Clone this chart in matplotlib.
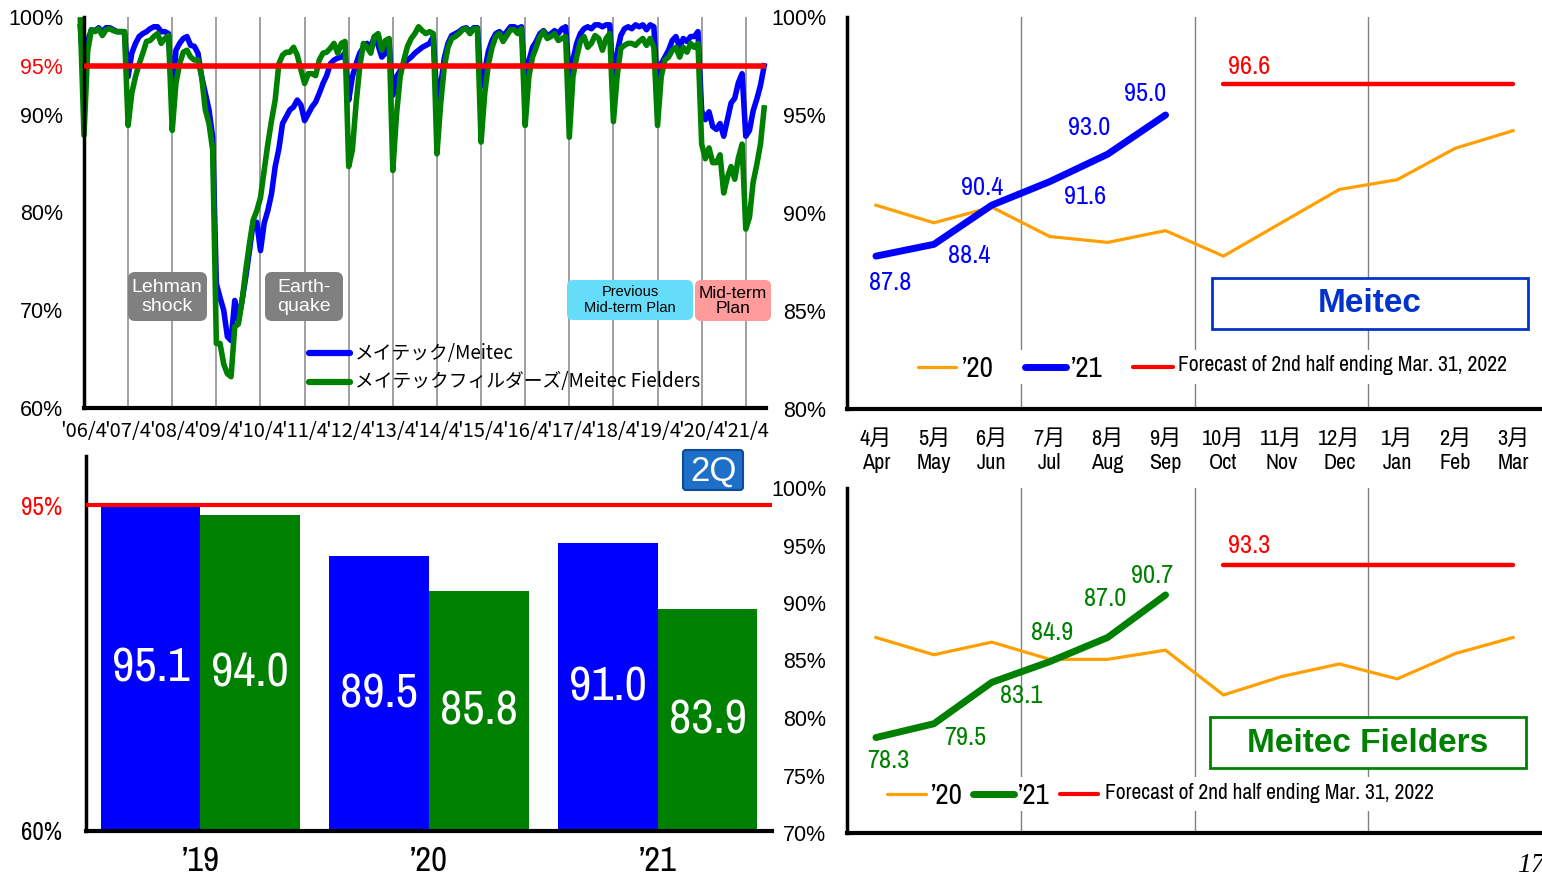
import matplotlib
matplotlib.use("Agg")
import matplotlib.pyplot as plt
import numpy as np
from matplotlib.lines import Line2D
from matplotlib.patches import FancyBboxPatch, Rectangle

W, H = 1542, 884

# 月次稼働率 2006/3 .. 2020/3 (1行 = 1年度 4月..3月, 先頭は 2006/3)
meitec_hist = [
    99.0,
    93.5, 97.5, 98.7, 98.6, 98.9, 98.5, 98.9, 98.9, 98.7, 98.5, 98.5, 98.5,
    93.9, 96.3, 97.3, 98.0, 98.3, 98.5, 98.8, 99.0, 99.0, 98.5, 98.5, 98.3,
    91.0, 96.6, 97.3, 97.8, 98.0, 97.1, 97.0, 96.3, 93.9, 92.2, 90.5, 87.7,
    72.7, 71.3, 70.0, 67.3, 66.9, 71.0, 69.0, 71.0, 73.4, 76.1, 78.9, 79.0,
    76.1, 78.9, 80.2, 81.9, 84.7, 86.5, 89.1, 89.8, 90.5, 90.8, 91.5, 91.0,
    89.4, 90.1, 90.8, 91.3, 92.2, 93.2, 94.0, 95.2, 95.6, 95.8, 95.9, 96.3,
    91.5, 93.9, 95.2, 96.3, 96.9, 97.3, 96.9, 98.0, 97.1, 95.9, 96.3, 97.3,
    92.0, 93.9, 94.5, 95.2, 95.6, 95.9, 96.3, 96.6, 96.9, 97.1, 97.3, 98.0,
    91.5, 93.0, 95.8, 97.3, 98.1, 98.3, 98.5, 98.8, 98.9, 98.5, 98.9, 98.9,
    92.9, 94.5, 96.5, 97.6, 98.3, 98.5, 98.1, 98.5, 99.0, 99.0, 98.8, 99.0,
    92.9, 95.5, 96.9, 97.5, 98.3, 98.6, 98.1, 98.3, 98.6, 98.3, 98.8, 99.0,
    93.9, 95.6, 97.3, 98.3, 98.8, 99.0, 98.8, 99.2, 99.2, 99.0, 99.2, 99.2,
    92.5, 96.3, 98.1, 98.8, 99.0, 98.8, 99.2, 99.0, 99.2, 98.7, 99.2, 99.0,
    92.5, 95.2, 95.9, 96.6, 97.6, 98.0, 96.9, 97.8, 97.5, 98.0, 98.0, 98.5,
]
fielders_hist = [
    99.7,
    87.9, 96.5, 98.7, 98.5, 98.8, 98.1, 98.7, 98.8, 98.6, 98.5, 98.5, 98.5,
    88.9, 92.2, 93.9, 95.2, 96.3, 97.5, 97.6, 98.0, 98.3, 97.3, 97.8, 98.1,
    88.4, 93.2, 95.2, 96.4, 96.6, 95.9, 95.6, 95.6, 93.9, 90.5, 89.1, 86.4,
    66.6, 66.6, 64.5, 63.5, 63.2, 68.3, 68.6, 71.0, 74.1, 76.8, 79.2, 80.2,
    81.5, 84.3, 87.0, 89.4, 91.5, 95.2, 96.1, 96.4, 96.4, 96.9, 96.1, 94.6,
    93.2, 94.2, 94.2, 94.0, 95.6, 96.3, 96.4, 96.8, 97.3, 96.3, 97.3, 97.5,
    84.7, 86.4, 91.1, 94.9, 97.3, 96.9, 96.3, 98.0, 98.3, 96.6, 97.6, 97.8,
    84.3, 90.0, 93.9, 95.6, 97.0, 97.8, 98.3, 99.0, 98.6, 98.3, 98.5, 98.3,
    86.0, 91.1, 94.9, 96.9, 97.8, 98.0, 98.3, 98.7, 98.8, 98.3, 98.8, 98.8,
    87.2, 92.2, 95.2, 96.9, 98.0, 98.3, 97.5, 98.1, 98.7, 98.7, 98.3, 98.8,
    88.9, 93.9, 95.9, 96.9, 98.0, 98.5, 97.8, 98.0, 98.3, 97.6, 97.8, 98.0,
    87.7, 93.9, 95.9, 97.5, 98.0, 96.9, 97.3, 98.1, 97.8, 96.6, 97.8, 98.3,
    89.3, 93.9, 96.8, 97.1, 97.3, 97.3, 97.1, 97.5, 97.8, 97.1, 97.8, 96.9,
    88.9, 93.9, 95.6, 95.9, 96.6, 96.9, 95.9, 96.9, 96.4, 97.3, 96.9, 97.3,
]

# '20 / '21 年度の月次
meitec_20 = [90.4, 89.5, 90.3, 88.8, 88.5, 89.1, 87.8, 89.5, 91.2, 91.7, 93.3, 94.2]
meitec_21 = [87.8, 88.4, 90.4, 91.6, 93.0, 95.0]
fielders_20 = [87.0, 85.5, 86.6, 85.1, 85.1, 85.9, 82.0, 83.6, 84.7, 83.4, 85.6, 87.0]
fielders_21 = [78.3, 79.5, 83.1, 84.9, 87.0, 90.7]
meitec_forecast = 96.6
fielders_forecast = 93.3

# 2Q
years_2q = ["’19", "’20", "’21"]
meitec_2q = [95.1, 89.5, 91.0]
fielders_2q = [94.0, 85.8, 83.9]

months_jp = ["4月", "5月", "6月", "7月", "8月", "9月", "10月", "11月", "12月", "1月", "2月", "3月"]
months_en = ["Apr", "May", "Jun", "Jul", "Aug", "Sep", "Oct", "Nov", "Dec", "Jan", "Feb", "Mar"]
fy_labels = ["'%02d/4" % y for y in range(6, 22)]

BLUE = "#0000FF"
GREEN = "#008000"
ORANGE = "#FFA000"
RED = "#FF0000"
NARROW = ["Archivo Narrow", "DejaVu Sans"]
SANS = ["Liberation Sans", "DejaVu Sans"]
JP = ["Noto Sans CJK JP", "DejaVu Sans"]
plt.rcParams["font.family"] = SANS


def rect(x0, y0, x1, y1):
    return [x0 / W, 1 - y1 / H, (x1 - x0) / W, (y1 - y0) / H]


def fig_line(x0, x1, y, color, lw):
    fig.add_artist(Line2D([x0 / W, x1 / W], [1 - y / H, 1 - y / H], transform=fig.transFigure,
                          color=color, lw=lw, solid_capstyle="round"))


def fig_box(x0, y0, x1, y1, fc, r=6, ec="none", lw=0):
    fig.add_artist(FancyBboxPatch((x0 / 100, (H - y1) / 100), (x1 - x0) / 100, (y1 - y0) / 100,
                                  boxstyle="round,pad=0,rounding_size=%f" % (r / 100),
                                  transform=fig.dpi_scale_trans, fc=fc, ec=ec, lw=lw))


def fig_text(x, y, s, **kw):
    fig.text(x / W, 1 - y / H, s, ha=kw.pop("ha", "center"), va=kw.pop("va", "center"), **kw)


fig = plt.figure(figsize=(W / 100, H / 100), dpi=100)

# ---- 左上: 月次推移 ----
ax1 = fig.add_axes(rect(84, 17, 766, 408))
meitec_all = meitec_hist + meitec_20 + meitec_21
fielders_all = fielders_hist + fielders_20 + fielders_21
xm = np.arange(len(meitec_all)) - 1
for m in range(12, 181, 12):
    ax1.axvline(m, color="#999999", lw=1.3, zorder=0)
ax1.plot(xm, meitec_all, color=BLUE, lw=4, clip_on=False, zorder=2)
ax1.plot(xm, fielders_all, color=GREEN, lw=4, clip_on=False, zorder=2.5)
ax1.axhline(95, color=RED, lw=4, zorder=3)
ax1.set_xlim(0, 185.5)
ax1.set_ylim(60, 100)
ax1.set_yticks([60, 70, 80, 90, 95, 100])
ax1.set_yticklabels(["60%", "70%", "80%", "90%", "95%", "100%"], fontsize=15.5)
ax1.get_yticklabels()[4].set_color(RED)
ax1.set_xticks(range(0, 181, 12))
ax1.set_xticklabels(fy_labels, fontsize=14.5, family=JP)
ax1.tick_params(length=0)
ax1.tick_params(axis="y", pad=15)
ax1.tick_params(axis="x", pad=9)
for s in ["top", "right"]:
    ax1.spines[s].set_visible(False)
ax1.spines["left"].set_linewidth(2.5)
ax1.spines["bottom"].set_linewidth(3)

fig_box(128, 272, 207, 321, "#808080", r=7)
fig_text(167, 297, "Lehman\nshock", color="white", fontsize=14, linespacing=1.15)
fig_box(265, 272, 343, 321, "#808080", r=7)
fig_text(304, 297, "Earth-\nquake", color="white", fontsize=14, linespacing=1.15)
fig_box(567, 280, 693, 320, "#66DDF8", r=6)
fig_text(630, 300, "Previous\nMid-term Plan", fontsize=10.5, linespacing=1.2)
fig_box(695, 280, 771, 321, "#FF9B9B", r=6)
fig_text(733, 301, "Mid-term\nPlan", fontsize=12.5, linespacing=1.05)

fig_line(309, 350, 353, BLUE, 4.5)
fig_text(355, 353, "メイテック/Meitec", ha="left", fontsize=13.5, family=JP)
fig_line(309, 350, 382, GREEN, 4.5)
fig_text(355, 382, "メイテックフィルダーズ/Meitec Fielders", ha="left", fontsize=13.5, family=JP)


# ---- 右: 月別 ----
def month_chart(ax, lo, prev, cur, cur_color, fc, offsets, fc_offset):
    x = np.arange(12)
    for g in [2.5, 5.5, 8.5]:
        ax.axvline(g, color="#808080", lw=1, zorder=0)
    ax.plot(x, prev, color=ORANGE, lw=2.3, zorder=2)
    ax.plot(x[:len(cur)], cur, color=cur_color, lw=5, solid_capstyle="round", zorder=3)
    ax.plot([6, 11], [fc, fc], color=RED, lw=3.2, solid_capstyle="round", zorder=3)
    for xi, v, off in zip(x, cur, offsets):
        ax.annotate("%.1f" % v, (xi, v), xytext=off, textcoords="offset pixels", ha="center",
                    va="center", color=cur_color, fontsize=19, family=NARROW)
    ax.annotate("%.1f" % fc, (6, fc), xytext=fc_offset, textcoords="offset pixels", ha="center",
                va="center", color=RED, fontsize=19, family=NARROW)
    ax.set_xlim(-0.5, 11.5)
    ax.set_ylim(lo, 100)
    ax.set_yticks(np.arange(lo, 100.1, 5))
    ax.set_yticklabels(["%d%%" % t for t in np.arange(lo, 100.1, 5)], fontsize=15.5)
    ax.tick_params(length=0)
    ax.tick_params(axis="y", pad=15)
    for s in ["top", "right"]:
        ax.spines[s].set_visible(False)
    ax.spines["left"].set_linewidth(2.5)
    ax.spines["bottom"].set_linewidth(3)


ax2 = fig.add_axes(rect(847, 17, 1542, 409))
month_chart(ax2, 80, meitec_20, meitec_21, BLUE, meitec_forecast,
            [(14, -26), (35, -11), (-10, 18), (35, -15), (-18, 27), (-20, 21)], (26, 17))
ax2.set_xticks(range(12))
ax2.set_xticklabels(["%s\n%s" % (j, e) for j, e in zip(months_jp, months_en)],
                    fontsize=16, family=["Archivo Narrow", "Noto Sans CJK JP"], linespacing=1.3)
ax2.tick_params(axis="x", pad=14)

ax3 = fig.add_axes(rect(847, 488, 1542, 833))
month_chart(ax3, 70, fielders_20, fielders_21, GREEN, fielders_forecast,
            [(12, -23), (31, -14), (29, -13), (2, 29), (-2, 39), (-13, 19)], (26, 20))
ax3.set_xticks([])

fig.add_artist(Rectangle((1212 / W, 1 - 329 / H), 316 / W, 51 / H, transform=fig.transFigure,
                         fc="white", ec="#0033CC", lw=2))
fig_text(1370, 304, "Meitec", color="#0033CC", fontsize=24, weight="bold")
fig.add_artist(Rectangle((1210 / W, 1 - 768 / H), 316 / W, 51 / H, transform=fig.transFigure,
                         fc="white", ec=GREEN, lw=2))
fig_text(1368, 743, "Meitec Fielders", color=GREEN, fontsize=24, weight="bold")

# 凡例 (右) - 白地でグリッド線を隠す
legend_bg = dict(fc="white", ec="none", pad=3)
fig.add_artist(Rectangle((910 / W, 1 - 384 / H), 605 / W, 34 / H, transform=fig.transFigure,
                         fc="white", ec="none"))
fig.add_artist(Rectangle((880 / W, 1 - 811 / H), 562 / W, 34 / H, transform=fig.transFigure,
                         fc="white", ec="none"))
fig_line(918, 956, 367, ORANGE, 2.3)
fig_text(962, 368, "’20", ha="left", fontsize=21, family=NARROW)
fig_line(1025, 1066, 367, BLUE, 5)
fig_text(1071, 368, "’21", ha="left", fontsize=21, family=NARROW)
fig_line(1133, 1173, 367, RED, 3)
fig_text(1178, 365, "Forecast of 2nd half ending Mar. 31, 2022", ha="left", fontsize=15.5, family=NARROW)

fig_line(887, 926, 794, ORANGE, 2.3)
fig_text(931, 795, "’20", ha="left", fontsize=21, family=NARROW)
fig_line(973, 1014, 794, GREEN, 5)
fig_text(1018, 795, "’21", ha="left", fontsize=21, family=NARROW)
fig_line(1060, 1098, 794, RED, 3)
fig_text(1105, 793, "Forecast of 2nd half ending Mar. 31, 2022", ha="left", fontsize=15.5, family=NARROW)

# ---- 左下: 2Q ----
ax4 = fig.add_axes(rect(86, 456, 772, 831))
xb = np.arange(len(years_2q))
bw = 0.436
ax4.bar(xb - bw / 2, meitec_2q, bw, color=BLUE, zorder=2)
ax4.bar(xb + bw / 2, fielders_2q, bw, color=GREEN, zorder=2)
for xi, v in zip(xb, meitec_2q):
    ax4.text(xi - bw / 2, (60 + v) / 2, "%.1f" % v, ha="center", va="center", color="white",
             fontsize=35, family=NARROW, zorder=4)
for xi, v in zip(xb, fielders_2q):
    ax4.text(xi + bw / 2, (60 + v) / 2, "%.1f" % v, ha="center", va="center", color="white",
             fontsize=35, family=NARROW, zorder=4)
ax4.axhline(95, color=RED, lw=3, zorder=3)
ax4.set_xlim(-0.5, 2.5)
ax4.set_ylim(60, 100.3)
ax4.set_yticks([60, 95])
ax4.set_yticklabels(["60%", "95%"], fontsize=18, family=NARROW)
ax4.get_yticklabels()[1].set_color(RED)
ax4.set_xticks(xb)
ax4.set_xticklabels(years_2q, fontsize=25, family=NARROW, weight="bold")
ax4.tick_params(length=0)
ax4.tick_params(axis="y", pad=17)
ax4.tick_params(axis="x", pad=10)
for s in ["top", "right"]:
    ax4.spines[s].set_visible(False)
ax4.spines["left"].set_linewidth(2.5)
ax4.spines["bottom"].set_linewidth(3)

fig_box(683, 450, 743, 490, "#1E6FC8", r=3, ec="#0D4A9A", lw=1.5)
fig_text(713, 471, "2Q", color="white", fontsize=25)

fig_text(1517, 866, "17", ha="left", fontsize=20, family="Liberation Serif", style="italic")

fig.savefig("out.png", dpi=100)
